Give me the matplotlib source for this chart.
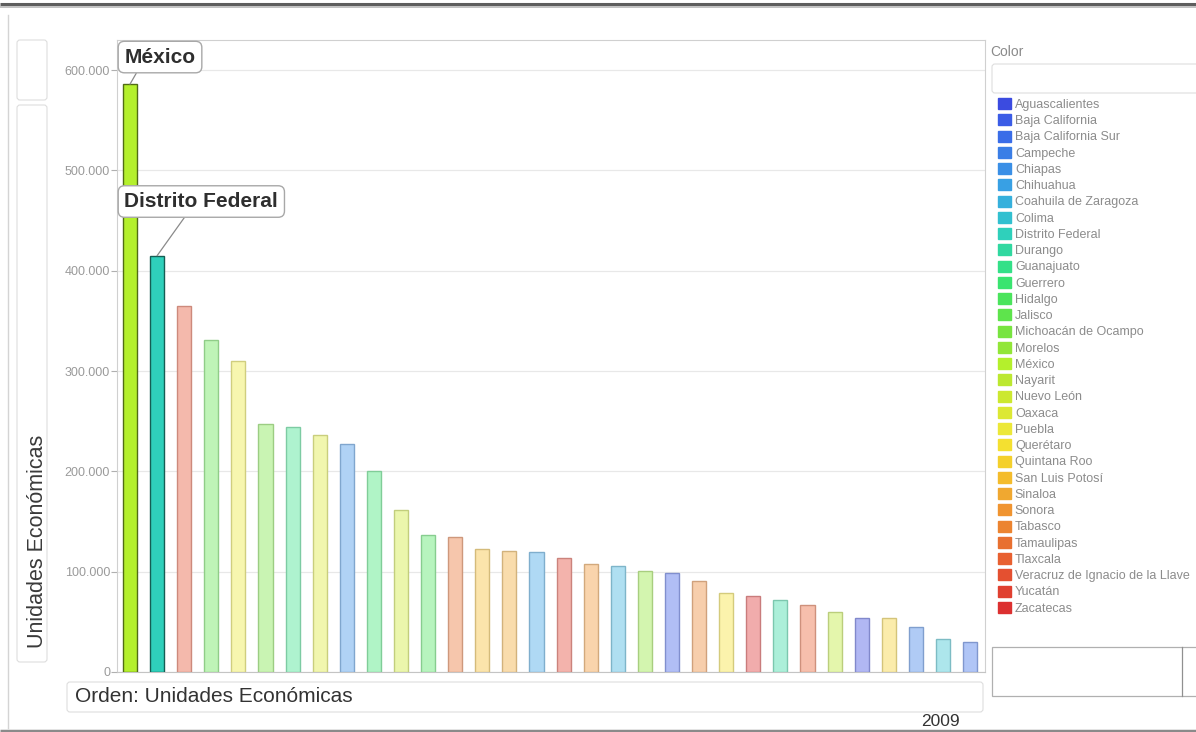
import matplotlib
matplotlib.use('Agg')
import matplotlib.pyplot as plt
from matplotlib.patches import Patch, FancyBboxPatch
from matplotlib.ticker import FuncFormatter, MultipleLocator
from matplotlib.colors import to_rgb
import numpy as np

plt.rcParams['font.family'] = ['Liberation Sans', 'DejaVu Sans']

# legend order and hue-circle colours
estados = ['Aguascalientes', 'Baja California', 'Baja California Sur', 'Campeche',
           'Chiapas', 'Chihuahua', 'Coahuila de Zaragoza', 'Colima', 'Distrito Federal',
           'Durango', 'Guanajuato', 'Guerrero', 'Hidalgo', 'Jalisco',
           'Michoacán de Ocampo', 'Morelos', 'México', 'Nayarit', 'Nuevo León', 'Oaxaca',
           'Puebla', 'Querétaro', 'Quintana Roo', 'San Luis Potosí', 'Sinaloa', 'Sonora',
           'Tabasco', 'Tamaulipas', 'Tlaxcala', 'Veracruz de Ignacio de la Llave',
           'Yucatán', 'Zacatecas']
colores = ['#3b4be0', '#3b5ce6', '#3a6de8', '#3a7ee6', '#3a8fe6', '#38a0e4', '#36b0dc',
           '#32c0d0', '#2fd0bb', '#30d8a0', '#34e088', '#3ae470', '#4ae45c', '#5ee44c',
           '#78e440', '#92e638', '#b4f02c', '#bce830', '#cce830', '#dce834', '#ece838',
           '#f4e030', '#f4d02c', '#f4bc2c', '#f0a830', '#f09430', '#ec8430', '#e87030',
           '#e86030', '#e45030', '#e04030', '#dc3030']

# bars, sorted by economic units (2009)
orden = ['México', 'Distrito Federal', 'Veracruz de Ignacio de la Llave', 'Jalisco',
         'Puebla', 'Michoacán de Ocampo', 'Guanajuato', 'Oaxaca', 'Chiapas', 'Guerrero',
         'Nuevo León', 'Hidalgo', 'Tamaulipas', 'San Luis Potosí', 'Sinaloa', 'Chihuahua',
         'Yucatán', 'Sonora', 'Coahuila de Zaragoza', 'Morelos', 'Baja California',
         'Tabasco', 'Querétaro', 'Zacatecas', 'Durango', 'Tlaxcala', 'Nayarit',
         'Aguascalientes', 'Quintana Roo', 'Campeche', 'Colima', 'Baja California Sur']
unidades = [586000, 415000, 365000, 331000, 310000, 247000, 244000, 236000, 227000,
            200000, 161000, 137000, 135000, 123000, 121000, 120000, 114000, 108000,
            106000, 101000, 99000, 91000, 79000, 76000, 72000, 67000, 60000, 54000,
            54000, 45000, 33000, 30000]
resaltados = ['México', 'Distrito Federal']

W, H = 1196, 732
fig = plt.figure(figsize=(W / 100, H / 100), dpi=100)

# background layer in pixel coordinates for the dashboard frame
bg = fig.add_axes([0, 0, 1, 1], zorder=-1)
bg.set_xlim(0, W)
bg.set_ylim(H, 0)
bg.axis('off')


def caja(x0, y0, x1, y1, ec='#dedede', lw=0.8):
    bg.add_patch(FancyBboxPatch((x0, y0), x1 - x0, y1 - y0,
                                boxstyle='round,pad=0,rounding_size=3',
                                fc='white', ec=ec, lw=lw))


bg.plot([0, W], [4, 4], color='#5e5e5e', lw=2.2, solid_capstyle='butt')
bg.plot([0, W], [6.5, 6.5], color='#b8b8b8', lw=1.2, solid_capstyle='butt')
bg.plot([8, 8], [15, 728], color='#d4d4d4', lw=1)
caja(17, 40, 47, 100)
caja(17, 105, 47, 662)
caja(67, 682, 983, 712)
caja(992, 64, 1200, 93)
bg.add_patch(FancyBboxPatch((992, 647), 210, 49, boxstyle='square,pad=0',
                            fc='white', ec='#b0b0b0', lw=0.9))
bg.plot([1182, 1182], [647, 696], color='#909090', lw=0.9)
bg.text(990, 52, 'Color', fontsize=10, color='#8a8a8a', va='center', ha='left')
bg.text(940, 721, '2009', fontsize=12.5, color='#333333', va='center', ha='center')
bg.plot([0, W], [731, 731], color='#8a8a8a', lw=2.5, solid_capstyle='butt')

# main chart
ax = fig.add_axes([117 / W, 1 - 672 / H, (985 - 117) / W, (672 - 40) / H])
color_de = dict(zip(estados, colores))
x = np.arange(len(orden))
relleno, borde = [], []
for est in orden:
    c = np.array(to_rgb(color_de[est]))
    if est in resaltados:
        relleno.append(c)
        borde.append(c * 0.45)
    else:
        relleno.append(1 - 0.4 * (1 - c))
        borde.append(1 - 0.6 * (1 - c * 0.75))
ax.bar(x, unidades, width=0.52, color=relleno, edgecolor=borde, linewidth=1, zorder=3)

ax.set_xlim(-0.48, len(orden) - 0.45)
ax.set_ylim(0, 630000)
ax.yaxis.set_major_locator(MultipleLocator(100000))
ax.yaxis.set_major_formatter(FuncFormatter(lambda v, p: f'{int(v):,}'.replace(',', '.')))
ax.grid(axis='y', color='#e8e8e8', lw=0.9, zorder=0)
ax.set_xticks([])
ax.tick_params(axis='y', length=4, width=0.8, color='#b0b0b0', labelcolor='#9a9a9a',
               labelsize=9, pad=1)
for s in ax.spines.values():
    s.set_color('#d0d0d0')
    s.set_linewidth(0.8)
ax.spines['bottom'].set_color('#c4c4c4')

ax.set_ylabel('Unidades Económicas', fontsize=15.5, color='#3a3a3a')
ax.yaxis.set_label_coords(-0.092, 0.207)
ax.yaxis.label.set_va('center')

fig.text(75 / W, 1 - 697 / H, 'Orden: Unidades Económicas', fontsize=15,
         color='#333333', va='center', ha='left')

# callouts for the highlighted states
for est, dx, dy, rx in [('México', -4, 19.5, 0.22), ('Distrito Federal', -23.5, 39, 0.42)]:
    i = orden.index(est)
    ax.annotate(est, xy=(x[i], unidades[i]), xytext=(dx, dy), textcoords='offset points',
                ha='left', va='center', fontsize=15, fontweight='bold', color='#2e2e2e',
                bbox=dict(boxstyle='round,pad=0.3,rounding_size=0.3', fc='white',
                          ec='#a8a8a8', lw=1),
                arrowprops=dict(arrowstyle='-', color='#8a8a8a', lw=0.9,
                                relpos=(rx, 0), shrinkA=0, shrinkB=0),
                zorder=5)

fig.legend(handles=[Patch(facecolor=c, edgecolor=c) for c in colores], labels=estados,
           loc='upper left', bbox_to_anchor=(998 / W, 1 - 98 / H), frameon=False,
           fontsize=9, handlelength=1.0, handleheight=1.0, handletextpad=0.35,
           labelspacing=0.27, borderpad=0, borderaxespad=0, labelcolor='#8c8c8c')

fig.savefig('out.png', dpi=100)
